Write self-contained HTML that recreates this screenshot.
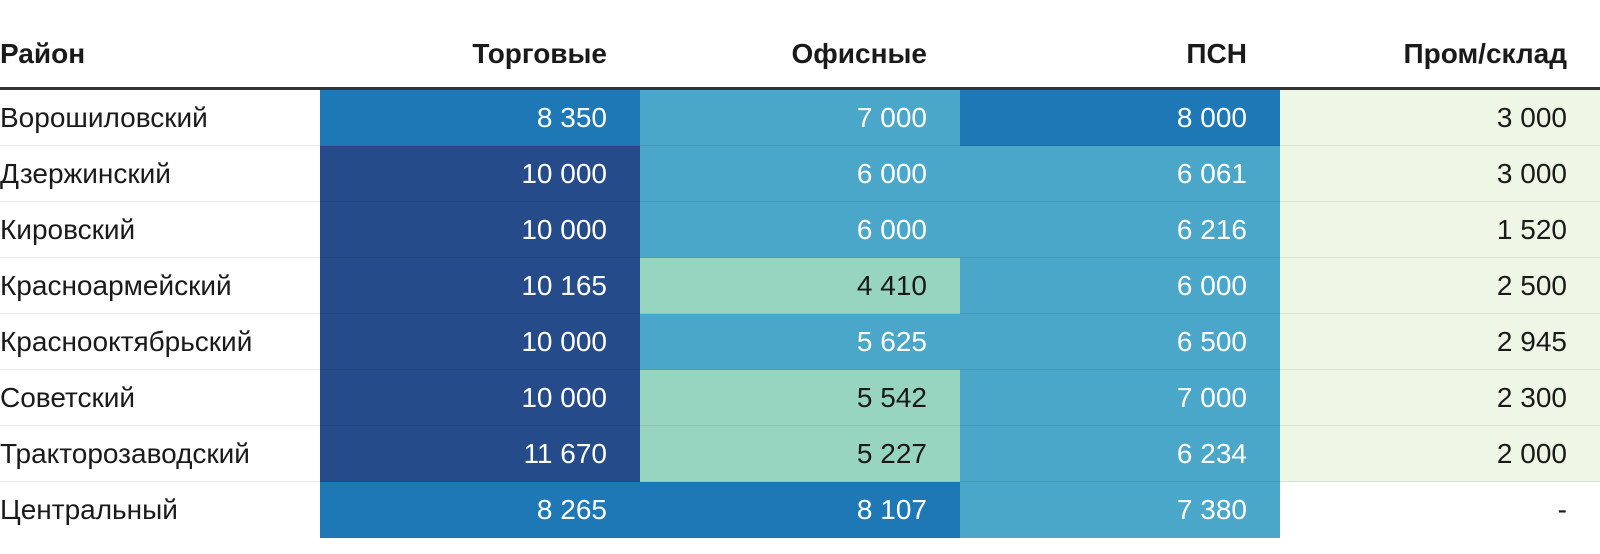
<!DOCTYPE html>
<html><head><meta charset="utf-8">
<style>
html,body{margin:0;padding:0;background:#fff;width:1600px;height:554px;overflow:hidden}
body{font-family:"Liberation Sans",sans-serif;color:#1a1a1a}
#wrap{position:relative;width:1600px;height:554px}
.hdr{position:absolute;top:0;height:87px;font-weight:bold;font-size:28px;line-height:1}
.hdr span{position:absolute;top:40px}
.rule{position:absolute;left:0;top:87px;width:1600px;height:3px;background:#333}
.cell{position:absolute;box-sizing:border-box;font-size:28px;line-height:56px;height:56px}
.line{position:absolute;left:0;width:1600px;height:1px;background:rgba(0,0,0,0.08)}
</style></head><body>
<div id="wrap">
  <div class="hdr" style="left:0;width:320px"><span style="left:0">Район</span></div>
  <div class="hdr" style="left:320px;width:320px"><span style="right:33px">Торговые</span></div>
  <div class="hdr" style="left:640px;width:320px"><span style="right:33px">Офисные</span></div>
  <div class="hdr" style="left:960px;width:320px"><span style="right:33px">ПСН</span></div>
  <div class="hdr" style="left:1280px;width:320px"><span style="right:33px">Пром/склад</span></div>
  <div class="rule"></div>
</div>
<script>
const districts=["Ворошиловский","Дзержинский","Кировский","Красноармейский","Краснооктябрьский","Советский","Тракторозаводский","Центральный"];
const retail=[8350,10000,10000,10165,10000,10000,11670,8265];
const office=[7000,6000,6000,4410,5625,5542,5227,8107];
const psn=[8000,6061,6216,6000,6500,7000,6234,7380];
const industrial=[3000,3000,1520,2500,2945,2300,2000,null];
const series=[retail,office,psn,industrial];
const seriesNames=["retail","office","psn","industrial"];

function colorFor(v){
  if(v==null) return ["transparent","#1a1a1a"];
  if(v>=10000) return ["#264b8b","#fff"];
  if(v>=8000) return ["#1f78b6","#fff"];
  if(v>=5600) return ["#4ba7ca","#fff"];
  if(v>=4000) return ["#97d5c1","#1a1a1a"];
  return ["#eef7e6","#1a1a1a"];
}
function fmt(v){
  if(v==null) return "-";
  return String(v).replace(/\B(?=(\d{3})+(?!\d))/g," ");
}
const wrap=document.getElementById('wrap');
const top0=90,rowH=56,colW=320;
districts.forEach((d,i)=>{
  const y=top0+i*rowH;
  const n=document.createElement('div');
  n.className='cell';
  n.style.left='0px';n.style.top=y+'px';n.style.width=colW+'px';
  n.textContent=d;
  
  
  wrap.appendChild(n);
  series.forEach((s,j)=>{
    const v=s[i];
    const c=colorFor(v);
    const el=document.createElement('div');
    el.className='cell';
    el.style.left=(colW*(j+1))+'px';el.style.top=y+'px';el.style.width=colW+'px';
    el.style.background=c[0];el.style.color=c[1];
    el.style.textAlign='right';el.style.paddingRight='33px';
    el.textContent=fmt(v);
    
    
    wrap.appendChild(el);
  });
  if(i<districts.length-1){
    const l=document.createElement('div');
    l.className='line';
    l.style.top=(y+rowH-1)+'px';
    
    
    wrap.appendChild(l);
  }
});
</script>
</body></html>
